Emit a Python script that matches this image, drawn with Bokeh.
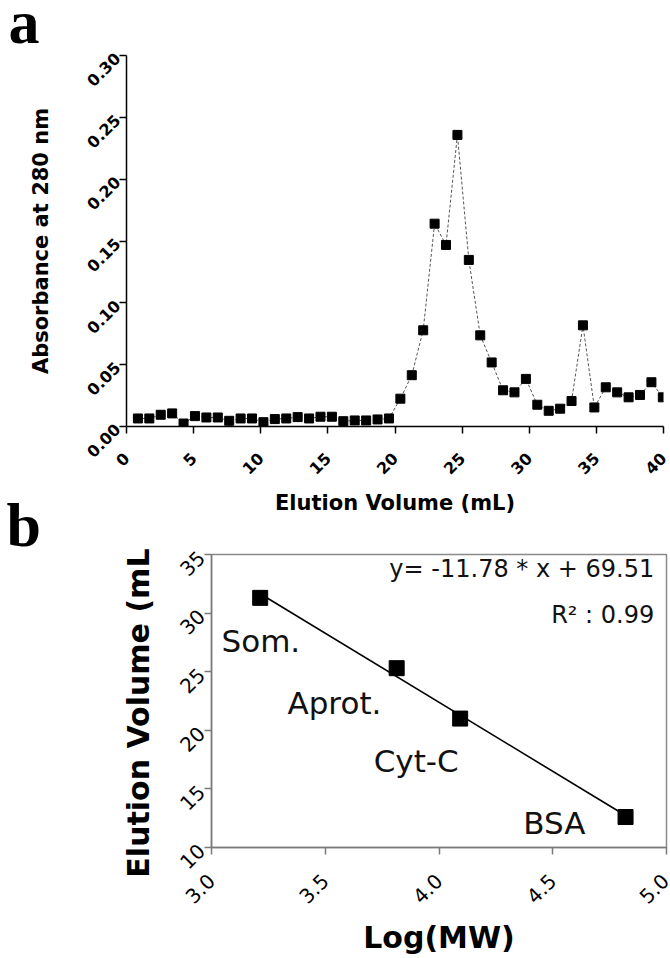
import math

from bokeh.core.properties import value
from bokeh.embed import file_html
from bokeh.layouts import column
from bokeh.models import ColumnDataSource, FixedTicker, Label, NumeralTickFormatter, Range1d
from bokeh.plotting import figure
from bokeh.resources import INLINE

# ---- panel a: absorbance of the collected fractions ----
fraction_volume_ml = [
    0.85, 1.70, 2.55, 3.40, 4.25, 5.10, 5.95, 6.80, 7.65, 8.50,
    9.35, 10.20, 11.05, 11.90, 12.75, 13.60, 14.45, 15.30, 16.15, 17.00,
    17.85, 18.70, 19.55, 20.40, 21.25, 22.10, 22.95, 23.80, 24.65, 25.50,
    26.35, 27.20, 28.05, 28.90, 29.75, 30.60, 31.45, 32.30, 33.15, 34.00,
    34.85, 35.70, 36.55, 37.40, 38.25, 39.10, 39.95,
]
absorbance_280 = [
    0.0065, 0.0065, 0.0095, 0.0106, 0.0024, 0.0084, 0.0073, 0.0073, 0.0046, 0.0065,
    0.0065, 0.0035, 0.0060, 0.0065, 0.0076, 0.0065, 0.0079, 0.0079, 0.0043, 0.0049,
    0.0049, 0.0057, 0.0065, 0.0225, 0.0415, 0.0778, 0.1640, 0.1468, 0.2358, 0.1347,
    0.0737, 0.0518, 0.0293, 0.0276, 0.0385, 0.0176, 0.0127, 0.0144, 0.0206, 0.0818,
    0.0154, 0.0317, 0.0276, 0.0236, 0.0255, 0.0358, 0.0236,
]
volume_ticks = [0, 5, 10, 15, 20, 25, 30, 35, 40]
absorbance_ticks = [0.00, 0.05, 0.10, 0.15, 0.20, 0.25, 0.30]

# ---- panel b: calibration with standard proteins ----
standard_names = ["Som.", "Aprot.", "Cyt-C", "BSA"]
standard_log_mw = [3.214, 3.814, 4.093, 4.820]
standard_elution_ml = [31.3, 25.3, 21.0, 12.6]
fit_slope = -11.78
fit_intercept = 69.51
fit_r2 = 0.99
log_mw_ticks = [3.0, 3.5, 4.0, 4.5, 5.0]
elution_ticks = [10, 15, 20, 25, 30, 35]

SANS = "DejaVu Sans"
SERIF = "Liberation Serif"
WIDTH = 670


def style_axis(ax, color, label_size, label_style, tick_color, standoff, title_size, title_standoff):
    ax.axis_line_color = color
    ax.axis_line_width = 1.5
    ax.major_tick_line_color = tick_color
    ax.major_tick_line_width = 1.5
    ax.major_tick_out = 7
    ax.major_tick_in = 0
    ax.minor_tick_line_color = None
    ax.major_label_text_font = SANS
    ax.major_label_text_font_size = label_size
    ax.major_label_text_font_style = label_style
    ax.major_label_text_color = "#000000"
    ax.major_label_orientation = math.pi / 4
    ax.major_label_standoff = standoff
    ax.axis_label_text_font = SANS
    ax.axis_label_text_font_size = title_size
    ax.axis_label_text_font_style = "bold"
    ax.axis_label_text_color = "#000000"
    ax.axis_label_standoff = title_standoff


def text_strip(height):
    """A borderless strip whose frame spans the whole canvas, in pixel coordinates
    measured from its top-left corner; used for the panel letters."""
    s = figure(
        width=WIDTH, height=height,
        x_range=Range1d(0, WIDTH), y_range=Range1d(height, 0),
        x_axis_type=None, y_axis_type=None,
        output_backend="svg", toolbar_location=None,
        min_border=0, frame_align=False,
    )
    s.outline_line_color = None
    s.background_fill_color = "white"
    s.border_fill_color = "white"
    return s


# ================= letter "a" =================
strip_a = text_strip(46)
strip_a.text(x=[8], y=[21], text=["a"], text_font=value(SERIF), text_font_style="bold",
             text_font_size="62px", text_color="black",
             text_align="left", text_baseline="alphabetic")

# ================= panel a =================
pa = figure(
    width=WIDTH, height=444,
    x_range=Range1d(0, 40), y_range=Range1d(0, 0.30),
    output_backend="svg", toolbar_location=None,
    min_border_left=126, min_border_right=7,
    min_border_top=9, min_border_bottom=64,
    frame_align=False,
)
pa.outline_line_color = None
pa.grid.visible = False
pa.background_fill_color = "white"
pa.border_fill_color = "white"

src_a = ColumnDataSource(data=dict(v=fraction_volume_ml, a=absorbance_280))
pa.line("v", "a", source=src_a, line_color="#555555", line_width=1, line_dash="3 2")
pa.scatter("v", "a", source=src_a, marker="square", size=9,
           fill_color="black", line_color="black")

pa.xaxis.ticker = FixedTicker(ticks=volume_ticks)
pa.yaxis.ticker = FixedTicker(ticks=absorbance_ticks)
pa.yaxis.formatter = NumeralTickFormatter(format="0.00")
pa.yaxis.axis_label = "Absorbance at 280 nm"
style_axis(pa.xaxis[0], "black", "16px", "bold", "black", 22, "21px", 12)
style_axis(pa.yaxis[0], "black", "16px", "bold", "black", 2, "21px", 25)

# ======= x title of panel a, next to letter "b" =======
strip_b = text_strip(58)
strip_b.text(x=[394.5], y=[12.3], text=["Elution Volume (mL)"], text_font=value(SANS),
             text_font_style="bold", text_font_size="21px", text_color="black",
             text_align="center", text_baseline="alphabetic")
strip_b.text(x=[6], y=[34], text=["b"], text_font=value(SERIF), text_font_style="bold",
             text_font_size="62px", text_color="black",
             text_align="left", text_baseline="alphabetic")

# ================= panel b =================
pb = figure(
    width=WIDTH, height=410,
    x_range=Range1d(3.0, 5.0), y_range=Range1d(10, 35),
    output_backend="svg", toolbar_location=None,
    min_border_left=211, min_border_right=4,
    min_border_top=6, min_border_bottom=111,
    frame_align=False,
)
pb.outline_line_color = "#8a8a8a"
pb.outline_line_width = 1.5
pb.grid.visible = False
pb.background_fill_color = "white"
pb.border_fill_color = "white"

fit_x = [standard_log_mw[0], standard_log_mw[-1]]
fit_y = [fit_slope * x + fit_intercept for x in fit_x]
pb.line(fit_x, fit_y, line_color="black", line_width=1.6)

src_b = ColumnDataSource(data=dict(x=standard_log_mw, y=standard_elution_ml, name=standard_names))
pb.scatter("x", "y", source=src_b, marker="square", size=15,
           fill_color="black", line_color="black")

# name labels sit below-left of each standard
label_dx = [-0.17, -0.48, -0.38, -0.45]
label_dy = [-3.7, -3.0, -3.65, -0.55]
pb.text(
    x=[x + d for x, d in zip(standard_log_mw, label_dx)],
    y=[y + d for y, d in zip(standard_elution_ml, label_dy)],
    text=standard_names,
    text_font=value(SANS), text_font_size="31px", text_color="#111111",
    text_align="left", text_baseline="alphabetic",
)

pb.add_layout(Label(x=4.946, y=33.8, text=f"y= {fit_slope:.2f} * x + {fit_intercept:.2f}",
                    text_font=SANS, text_font_size="24px", text_color="#111111",
                    text_align="right", text_baseline="alphabetic"))
pb.add_layout(Label(x=4.946, y=29.8, text=f"R\u00b2 : {fit_r2:.2f}",
                    text_font=SANS, text_font_size="24px", text_color="#111111",
                    text_align="right", text_baseline="alphabetic"))

pb.xaxis.ticker = FixedTicker(ticks=log_mw_ticks)
pb.yaxis.ticker = FixedTicker(ticks=elution_ticks)
pb.xaxis.formatter = NumeralTickFormatter(format="0.0")
pb.xaxis.axis_label = "Log(MW)"
pb.yaxis.axis_label = "Elution Volume (mL)\u00a0"
style_axis(pb.xaxis[0], "#7a7a7a", "20px", "normal", "#7a7a7a", 23, "30px", 7)
style_axis(pb.yaxis[0], "#7a7a7a", "20px", "normal", "#7a7a7a", 3, "30px", 15)

layout = column(strip_a, pa, strip_b, pb, spacing=0)

with open("out.html", "w") as f:
    f.write(file_html(layout, INLINE))
